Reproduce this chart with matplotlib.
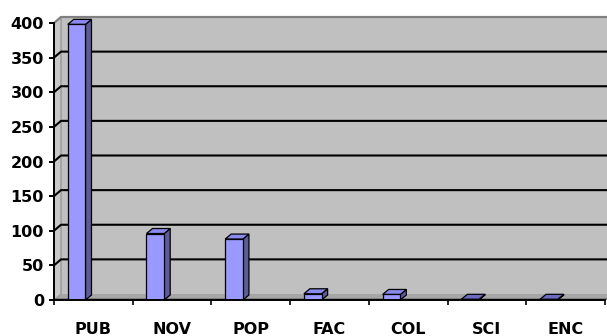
import matplotlib
matplotlib.use("Agg")
import matplotlib.pyplot as plt
from matplotlib.patches import Polygon

categories = ["PUB", "NOV", "POP", "FAC", "COL", "SCI", "ENC"]
counts = [398, 96, 88, 9, 8, 1, 1]
y_ticks = [0, 50, 100, 150, 200, 250, 300, 350, 400]

W, H, DPI = 607, 336, 100
fig = plt.figure(figsize=(W / DPI, H / DPI), dpi=DPI)

# plot area in pixels
left_px, right_px, top_px, bottom_px = 54, 605, 23, 300
ax = fig.add_axes([left_px / W, (H - bottom_px) / H,
                   (right_px - left_px) / W, (bottom_px - top_px) / H])
n = len(categories)
ymax = 400
ax.set_xlim(0, n)
ax.set_ylim(0, ymax)
ax.patch.set_visible(False)

# pixel -> data unit conversion
xu = n / (right_px - left_px)
yu = ymax / (bottom_px - top_px)

# depth of the walls and of the bars
wdx, wdy = 7 * xu, 6 * yu
bdx, bdy = 6 * xu, 5 * yu

wall_col = "#C0C0C0"
floor_col = "#A6A6A6"
kw = dict(clip_on=False)

# back wall
ax.add_patch(Polygon([(wdx, wdy), (n + wdx, wdy), (n + wdx, ymax + wdy), (wdx, ymax + wdy)],
                     closed=True, facecolor=wall_col, edgecolor="none", zorder=0, **kw))
# side wall
ax.add_patch(Polygon([(0, 0), (wdx, wdy), (wdx, ymax + wdy), (0, ymax)],
                     closed=True, facecolor="#C8C8C8", edgecolor="#8C8C8C", lw=0.8, zorder=0.5, **kw))
# floor
ax.add_patch(Polygon([(0, 0), (n, 0), (n + wdx, wdy), (wdx, wdy)],
                     closed=True, facecolor=floor_col, edgecolor="none", zorder=0.5, **kw))
ax.plot([0, n + wdx], [1.2 * yu, 1.2 * yu], color="#808080", lw=1.4, zorder=0.6, **kw)
# wall top border
ax.plot([0, wdx, n + wdx], [ymax, ymax + wdy, ymax + wdy], color="#808080", lw=1.6, zorder=0.6, **kw)

# gridlines on side wall and back wall
for v in y_ticks[1:-1]:
    ax.plot([0, wdx, n + wdx], [v, v + wdy, v + wdy], color="black", lw=1.5, zorder=0.7, **kw)

# bars
centers = [i + 0.2875 for i in range(n)]
bw = 0.225
front = "#9999FF"
side = "#5C5C99"
topc = "#8A8AEE"
for c, v in zip(centers, counts):
    x0, x1 = c - bw / 2, c + bw / 2
    ax.add_patch(Polygon([(x1, 0), (x1 + bdx, bdy), (x1 + bdx, v + bdy), (x1, v)],
                         closed=True, facecolor=side, edgecolor="black", lw=0.9, zorder=2, **kw))
    ax.add_patch(Polygon([(x0, v), (x0 + bdx, v + bdy), (x1 + bdx, v + bdy), (x1, v)],
                         closed=True, facecolor=topc if v > 3 else "#6B6BC0",
                         edgecolor="black", lw=0.9, zorder=2, **kw))
ax.bar(centers, counts, width=bw, color=front, edgecolor="black", linewidth=0.9, zorder=3)

# axes
for s in ["top", "right"]:
    ax.spines[s].set_visible(False)
for s in ["left", "bottom"]:
    ax.spines[s].set_color("black")
    ax.spines[s].set_linewidth(1.4)
    ax.spines[s].set_zorder(4)

font = dict(family="DejaVu Sans", weight="bold", size=11.5)
ax.set_yticks(y_ticks)
ax.set_yticklabels([str(t) for t in y_ticks], **font)
ax.tick_params(axis="y", direction="out", length=3.6, width=1.4, pad=3.6, colors="black")

ax.set_xticks(range(n + 1))
ax.set_xticklabels([])
ax.tick_params(axis="x", which="major", direction="out", length=3.6, width=1.2, colors="black")
ax.set_xticks([i + 0.5 for i in range(n)], minor=True)
ax.set_xticklabels(categories, minor=True, **font)
ax.tick_params(axis="x", which="minor", length=0, pad=16)

fig.savefig("out.png", dpi=DPI)
